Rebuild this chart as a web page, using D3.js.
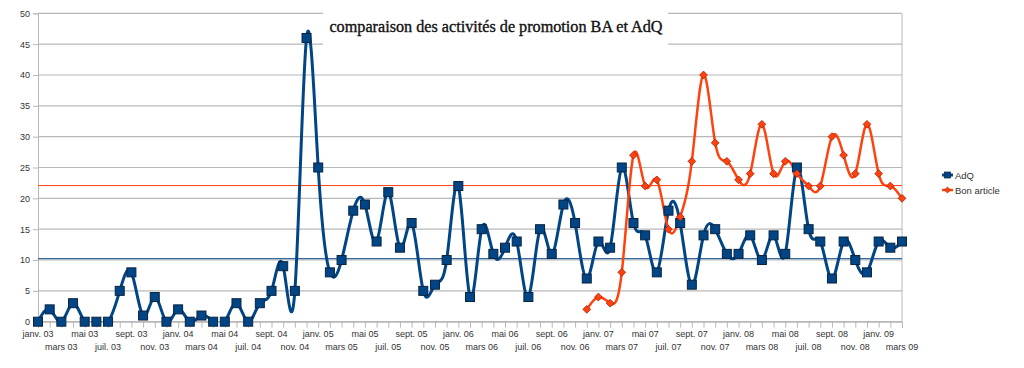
<!DOCTYPE html>
<html><head><meta charset="utf-8">
<script src="https://cdn.jsdelivr.net/npm/d3@7"></script>
<style>body{margin:0;background:#fff}svg{display:block}</style>
</head><body>
<svg id="c" width="1024" height="368"></svg>
<script>
const monthNames = ["janv.","févr.","mars","avr.","mai","juin","juil.","août","sept.","oct.","nov.","déc."];
const years = ["03","04","05","06","07","08","09"];
const monthCount = 75; // janv. 03 .. mars 09
const categories = [];
for (let i = 0; i < monthCount; i++) categories.push(monthNames[i % 12] + " " + years[Math.floor(i / 12)]);

const adq = [0,2,0,3,0,0,0,5,8,1,4,0,
             2,0,1,0,0,3,0,3,5,9,5,46,
             25,8,10,18,19,13,21,12,16,5,6,10,
             22,4,15,11,12,13,4,15,11,19,16,7,
             13,12,25,16,14,8,18,16,6,14,15,11,
             11,14,10,14,11,25,15,13,7,13,10,8,
             13,12,13];
const bonArticleStart = "déc. 06";
const bonArticle = [2,4,3,8,27,22,23,15,17,26,40,29,26,23,24,32,24,26,24,22,22,30,27,24,32,24,22,20];
const yTicks = [0,5,10,15,20,25,30,35,40,45,50];
const seriesNames = ["AdQ","Bon article"];
const title = "comparaison des activités de promotion BA et AdQ";

const blue = "#004586", orange = "#ff420e";
const svg = d3.select("#c");
const L = 38, R = 902, T = 13.3, B = 321.7;
const x = d3.scalePoint().domain(categories).range([L, R]);
const y = d3.scaleLinear().domain([0, 50]).range([B, T]);

svg.append("defs").append("clipPath").attr("id","clip")
  .append("rect").attr("x", L).attr("y", T - 10).attr("width", R - L).attr("height", B - T + 10);

// gridlines
svg.append("g").selectAll("line").data(yTicks).join("line")
  .attr("x1", L).attr("x2", R).attr("y1", d => y(d)).attr("y2", d => y(d))
  .attr("stroke", "#b8b8b8").attr("stroke-width", 1.2);
// right border
svg.append("line").attr("x1", R).attr("x2", R).attr("y1", T).attr("y2", B).attr("stroke", "#b8b8b8");

// y axis
const yAxis = svg.append("g").attr("transform", `translate(${L},0)`)
  .call(d3.axisLeft(y).tickValues(yTicks).tickSize(5).tickPadding(3));
yAxis.select(".domain").attr("stroke", "#b8b8b8");
yAxis.selectAll(".tick line").attr("stroke", "#b8b8b8");
yAxis.selectAll("text").attr("font-family", "Liberation Sans, Arial, sans-serif").attr("font-size", 9).attr("fill", "#333");

// x axis
const xAxis = svg.append("g").attr("transform", `translate(0,${B})`)
  .call(d3.axisBottom(x).tickSize(6).tickFormat(() => ""));
xAxis.select(".domain").attr("stroke", "#b8b8b8");
xAxis.selectAll(".tick line").attr("stroke", "#b8b8b8");
svg.append("g").selectAll("text").data(categories.filter((d, i) => i % 2 === 0)).join("text")
  .attr("x", d => x(d)).attr("y", (d, i) => i % 2 === 0 ? 337 : 349.5)
  .attr("text-anchor", "middle")
  .attr("font-family", "Liberation Sans, Arial, sans-serif").attr("font-size", 9).attr("fill", "#333")
  .text(d => d);

// mean lines
const meanAdq = d3.mean(adq), meanBa = d3.mean(bonArticle);
svg.append("line").attr("x1", L).attr("x2", R).attr("y1", y(meanBa)).attr("y2", y(meanBa)).attr("stroke", orange).attr("stroke-width", 1);
svg.append("line").attr("x1", L).attr("x2", R).attr("y1", y(meanAdq)).attr("y2", y(meanAdq)).attr("stroke", blue).attr("stroke-width", 1);

// title box
svg.append("rect").attr("x", 323).attr("y", 8).attr("width", 345).attr("height", 37).attr("fill", "#fff");
svg.append("text").attr("x", 496).attr("y", 31.5).attr("text-anchor", "middle")
  .attr("font-family", "Liberation Serif, DejaVu Serif, serif").attr("font-size", 16.2).attr("fill", "#111")
  .attr("stroke", "#111").attr("stroke-width", 0.35)
  .text(title);

// series
const adqData = adq.map((v, i) => ({c: categories[i], v}));
const s0 = categories.indexOf(bonArticleStart);
const baData = bonArticle.map((v, i) => ({c: categories[s0 + i], v}));
const line = d3.line().x(d => x(d.c)).y(d => y(d.v)).curve(d3.curveNatural);

const plot = svg.append("g").attr("clip-path", "url(#clip)");
plot.append("path").datum(adqData).attr("d", line).attr("fill", "none").attr("stroke", blue).attr("stroke-width", 3);
svg.append("g").selectAll("rect").data(adqData).join("rect")
  .attr("x", d => x(d.c) - 4.5).attr("y", d => y(d.v) - 4.5).attr("width", 9).attr("height", 9)
  .attr("fill", blue).attr("stroke", "#0a2440").attr("stroke-width", 1);

plot.append("path").datum(baData).attr("d", line).attr("fill", "none").attr("stroke", orange).attr("stroke-width", 2.5);
const diamond = d3.symbol().type(d3.symbolSquare).size(30);
svg.append("g").selectAll("path").data(baData).join("path")
  .attr("d", diamond).attr("transform", d => `translate(${x(d.c)},${y(d.v)}) rotate(45)`)
  .attr("fill", orange).attr("stroke", "#a8250a").attr("stroke-width", 0.8);

// legend
const lg = svg.append("g").attr("font-family", "Liberation Sans, Arial, sans-serif").attr("font-size", 9.5).attr("fill", "#333");
const ly = [175, 190];
lg.append("line").attr("x1", 942).attr("x2", 953).attr("y1", ly[0]).attr("y2", ly[0]).attr("stroke", blue).attr("stroke-width", 3);
lg.append("rect").attr("x", 944.5).attr("y", ly[0] - 3).attr("width", 6).attr("height", 6).attr("fill", blue).attr("stroke", "#0a2440").attr("stroke-width", 0.7);
lg.append("line").attr("x1", 942).attr("x2", 953).attr("y1", ly[1]).attr("y2", ly[1]).attr("stroke", orange).attr("stroke-width", 2.5);
lg.append("path").attr("d", d3.symbol().type(d3.symbolSquare).size(18)).attr("transform", `translate(947.5,${ly[1]}) rotate(45)`).attr("fill", orange).attr("stroke", "#a8250a").attr("stroke-width", 0.6);
lg.selectAll("text").data(seriesNames).join("text").attr("x", 955).attr("y", (d, i) => ly[i] + 3.5).text(d => d);
</script>
</body></html>
